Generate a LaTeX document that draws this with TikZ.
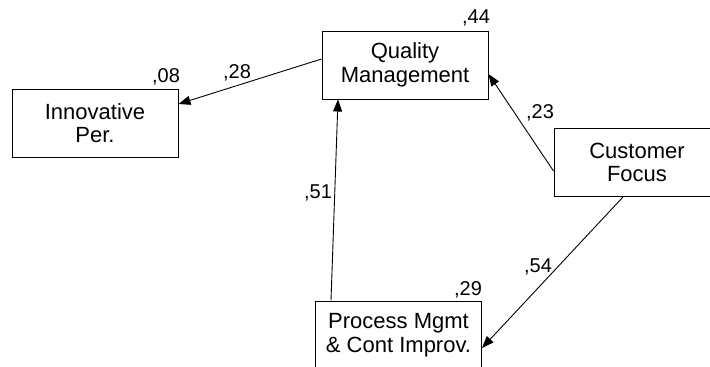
\documentclass[tikz,border=0pt]{standalone}
\usepackage{fontspec}
\setmainfont{Liberation Sans}
\usepackage{tikz}
\usetikzlibrary{arrows.meta,positioning}
\pgfdeclarelayer{edgelayer}
\pgfdeclarelayer{nodelayer}
\pgfsetlayers{edgelayer,nodelayer,main}
\tikzstyle{factor}=[rectangle,draw=black,fill=white,line width=1pt,minimum width=166pt,minimum height=68pt,inner sep=0pt,align=center,font=\fontsize{22}{23.5}\selectfont]
\tikzstyle{coef}=[inner sep=0pt,anchor=base,font=\fontsize{20}{20}\selectfont]
\tikzstyle{inarrow}=[-{Triangle[length=12pt,width=9pt]},line width=0.9pt]

\begin{document}
\begin{tikzpicture}[x=1pt,y=-1pt]
	\useasboundingbox (0,0) rectangle (710,367);
	\begin{pgfonlayer}{nodelayer}
		\node [style=factor] (Innov) at (95,123) {Innovative\\Per.};
		\node [style=factor] (Quality) at (405,65) {Quality\\Management};
		\node [style=factor] (Customer) at (637,162.5) {Customer\\Focus};
		\node [style=factor] (Process) at (398.5,335) {Process Mgmt\\\& Cont Improv.};
		\node [style=coef] (rInnov) at (166,82) {,08};
		\node [style=coef] (rQuality) at (476,23) {,44};
		\node [style=coef] (rProcess) at (468,295) {,29};
		\node [style=coef] (bQI) at (237,78) {,28};
		\node [style=coef] (bCQ) at (540,118) {,23};
		\node [style=coef] (bPQ) at (318,198) {,51};
		\node [style=coef] (bCP) at (538,272) {,54};
	\end{pgfonlayer}
	\begin{pgfonlayer}{edgelayer}
		\draw [style=inarrow] ([yshift=6pt]Quality.west) to ([yshift=19pt]Innov.east);
		\draw [style=inarrow] ([xshift=-67.5pt]Process.north) to ([xshift=-67pt]Quality.south);
		\draw [style=inarrow] ([yshift=-8.5pt]Customer.west) to ([yshift=-9pt]Quality.east);
		\draw [style=inarrow] ([xshift=-14pt]Customer.south) to ([yshift=-13pt]Process.east);
	\end{pgfonlayer}
\end{tikzpicture}
\end{document}
